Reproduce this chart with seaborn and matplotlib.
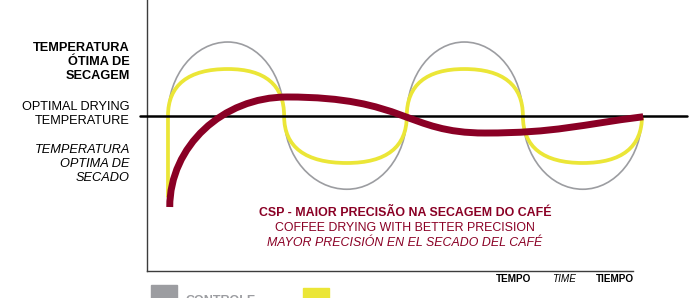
import matplotlib
matplotlib.use("Agg")
import matplotlib.pyplot as plt
import seaborn as sns
from matplotlib.path import Path
from matplotlib.patches import PathPatch, Rectangle

sns.set_theme(style="white")
plt.rcParams["font.family"] = ["Liberation Sans", "DejaVu Sans"]

# ---- data (time in quarter-cycles, temperature relative to optimum) ----
gray_t = [0.0, 1.01, 1.96, 3.02, 4.03, 5.0, 5.99, 7.0, 8.0]
gray_v = [0.0, 1.0, 0.0, -0.99, 0.0, 1.0, 0.0, -0.99, 0.0]
gray_tan = ["v", "h", "v", "h", "v", "h", "v", "h", "v"]

yellow_t = [0.0, 0.0, 1.01, 1.96, 3.02, 4.03, 5.0, 5.99, 7.0, 8.0]
yellow_v = [-1.1, 0.0, 0.635, 0.0, -0.635, 0.0, 0.635, 0.0, -0.635, 0.0]
yellow_tan = ["v", "v", "h", "v", "h", "v", "h", "v", "h", "v"]

red_t = [0.03, 2.01, 5.35, 8.02]
red_v = [-1.23, 0.257, -0.23, -0.01]
red_tan = ["v", "h", "h", 0.1]

optimal_t = [-0.47, 8.76]
optimal_v = [0.0, 0.0]

left_labels = ["TEMPERATURA\nÓTIMA DE\nSECAGEM",
               "OPTIMAL DRYING\nTEMPERATURE",
               "TEMPERATURA\nOPTIMA DE\nSECADO"]
title_lines = ["CSP - MAIOR PRECISÃO NA SECAGEM DO CAFÉ",
               "COFFEE DRYING WITH BETTER PRECISION",
               "MAYOR PRECISIÓN EN EL SECADO DEL CAFÉ"]
time_labels = ["TEMPO", "TIME", "TIEMPO"]
legend_labels = ["CONTROLE", ""]

GRAY = "#9c9da1"
YELLOW = "#ebe637"
RED = "#8a0025"


def smooth_path(ts, vs, tans, ks):
    verts = [(ts[0], vs[0])]
    codes = [Path.MOVETO]
    for i in range(len(ts) - 1):
        t0, v0, t1, v1 = ts[i], vs[i], ts[i + 1], vs[i + 1]
        k0, k1 = ks[i] if isinstance(ks, list) else (ks, ks)
        dt, dv = t1 - t0, v1 - v0
        a, b = tans[i], tans[i + 1]
        if a == "h":
            c1 = (t0 + k0 * dt, v0)
        elif a == "v":
            c1 = (t0, v0 + k0 * dv)
        else:
            c1 = (t0 + k0 * dt, v0 + k0 * dt * a)
        if b == "h":
            c2 = (t1 - k1 * dt, v1)
        elif b == "v":
            c2 = (t1, v1 - k1 * dv)
        else:
            c2 = (t1 - k1 * dt, v1 - k1 * dt * b)
        verts += [c1, c2, (t1, v1)]
        codes += [Path.CURVE4] * 3
    return Path(verts, codes)


fig = plt.figure(figsize=(6.99, 2.98), dpi=100)
ax = fig.add_axes([147 / 699, 27 / 298, 486 / 699, 271 / 298])
ax.set_xlim(-0.354, 7.848)
ax.set_ylim(-2.095, 1.568)
ax.set_xticks([])
ax.set_yticks([])
for s in ["top", "right"]:
    ax.spines[s].set_visible(False)
for s in ["left", "bottom"]:
    ax.spines[s].set_color("#3c3c3c")
    ax.spines[s].set_linewidth(1.0)
ax.set_facecolor("white")

ax.add_patch(PathPatch(smooth_path(gray_t, gray_v, gray_tan, 0.5523),
                       fill=False, edgecolor=GRAY, lw=1.2, clip_on=False, zorder=2))
ax.add_patch(PathPatch(smooth_path(yellow_t, yellow_v, yellow_tan, 0.66),
                       fill=False, edgecolor=YELLOW, lw=2.7, clip_on=False, zorder=3))
sns.lineplot(x=optimal_t, y=optimal_v, ax=ax, color="black", lw=1.8)
for ln in ax.lines:
    ln.set_clip_on(False)
    ln.set_zorder(4)
ax.add_patch(PathPatch(smooth_path(red_t, red_v, red_tan,
                                   [(0.55, 0.55), (0.6, 0.4), (0.45, 0.4)]),
                       fill=False, edgecolor=RED, lw=5.0, clip_on=False,
                       capstyle="butt", zorder=5))

# left labels
styles = [dict(fontweight="bold"), dict(), dict(fontstyle="italic")]
ys = [62, 114, 164]
for txt, st, y in zip(left_labels, styles, ys):
    fig.text(130 / 699, 1 - y / 298, txt, ha="right", va="center",
             fontsize=9.2, linespacing=1.2, color="black", **st)

# red titles
tstyles = [dict(fontweight="bold"), dict(), dict(fontstyle="italic")]
for txt, st, y in zip(title_lines, tstyles, [213, 228, 243]):
    fig.text(405 / 699, 1 - y / 298, txt, ha="center", va="center",
             fontsize=8.9, color=RED, **st)

# time labels
tl_styles = [dict(fontweight="bold"), dict(fontstyle="italic"), dict(fontweight="bold")]
for txt, st, x in zip(time_labels, tl_styles, [514, 564, 615]):
    fig.text(x / 699, 1 - 279 / 298, txt, ha="center", va="center",
             fontsize=7.2, color="black", **st)

# legend (cut off at bottom edge, as in the source graphic)
fig.add_artist(Rectangle((151 / 699, -0.05), 26 / 699, 0.05 + 13 / 298,
                         transform=fig.transFigure, color=GRAY))
fig.add_artist(Rectangle((303 / 699, -0.05), 26 / 699, 0.05 + 10 / 298,
                         transform=fig.transFigure, color=YELLOW))
fig.text(185 / 699, 3 / 298, legend_labels[0], ha="left", va="top",
         fontsize=9, fontweight="bold", color=GRAY)

fig.savefig("out.png", dpi=100, facecolor="white")
